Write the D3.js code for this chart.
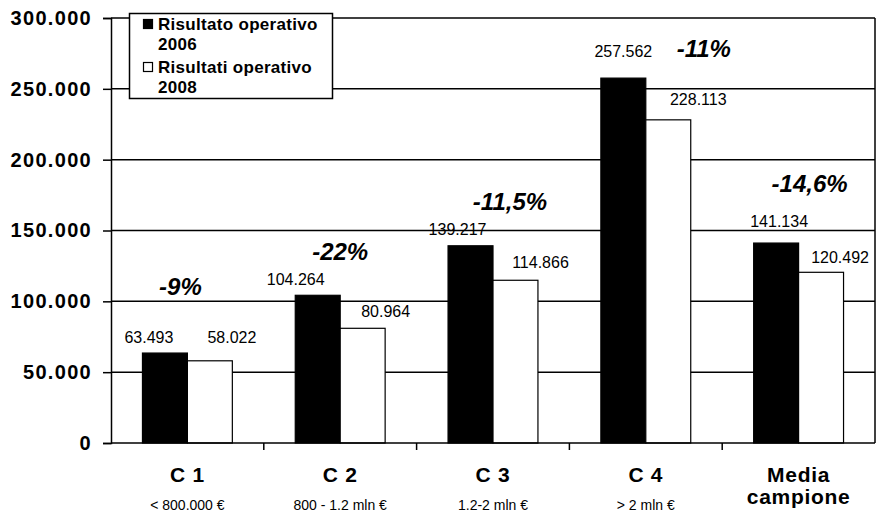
<!DOCTYPE html>
<html>
<head>
<meta charset="utf-8">
<script src="https://cdn.jsdelivr.net/npm/d3@7"></script>
<style>
  html, body { margin: 0; padding: 0; background: #fff; }
  svg { display: block; }
</style>
</head>
<body>
<svg id="chart" width="877" height="516"></svg>
<script>
// Risultato operativo per classe di fatturato
const categories = ["C 1", "C 2", "C 3", "C 4", "Media campione"];
const categoryLines = [["C 1"], ["C 2"], ["C 3"], ["C 4"], ["Media", "campione"]];
const subtitles = ["< 800.000 €", "800 - 1.2 mln €", "1.2-2 mln €", "> 2 mln €", ""];
const series = ["2006", "2008"];
const seriesNames = [["Risultato operativo", "2006"], ["Risultati operativo", "2008"]];
const values2006 = [63493, 104264, 139217, 257562, 141134];
const values2008 = [58022, 80964, 114866, 228113, 120492];
const changeLabels = ["-9%", "-22%", "-11,5%", "-11%", "-14,6%"];
const yTicks = [0, 50000, 100000, 150000, 200000, 250000, 300000];

// label nudges (px): value labels per series, change labels per category
const valueNudge2006 = [[-16, -10], [-22, -10], [-13, -11], [0, -21], [3, -16]];
const valueNudge2008 = [[22, -18], [23, -11], [25, -12], [30, -15], [19, -9]];
const changeNudge = [[-7, -58], [0, -35], [17, -36], [58, -21], [11, -51]];

const svg = d3.select("#chart");
const plotLeft = 111, plotRight = 875, plotTop = 18, plotBottom = 443;
const FONT = "'Liberation Sans', Arial, Helvetica, sans-serif";

const itLocale = d3.formatLocale({ decimal: ",", thousands: ".", grouping: [3], currency: ["", "€"] });
const fmt = itLocale.format(",d");

const x = d3.scaleBand().domain(categories).range([plotLeft, plotRight]).padding(0);
const x1 = d3.scaleBand().domain(series).range([0, x.bandwidth()]).paddingInner(0).paddingOuter(0.7);
const y = d3.scaleLinear().domain([0, 300000]).range([plotBottom, plotTop]);

const rows = categories.map((c, i) => ({ c, i, v: [values2006[i], values2008[i]] }));

// gridlines
svg.append("g").selectAll("line").data(yTicks.filter(t => t > 0)).join("line")
  .attr("x1", plotLeft).attr("x2", plotRight)
  .attr("y1", d => y(d)).attr("y2", d => y(d))
  .attr("stroke", "#000").attr("stroke-width", 1.5);
// right border
svg.append("line").attr("x1", plotRight).attr("x2", plotRight).attr("y1", plotTop).attr("y2", plotBottom)
  .attr("stroke", "#000").attr("stroke-width", 1.5);

// bars
const groups = svg.append("g").selectAll("g").data(rows).join("g")
  .attr("transform", d => `translate(${x(d.c)},0)`);
groups.selectAll("rect").data(d => d.v.map((v, k) => ({ k, v }))).join("rect")
  .attr("x", d => x1(series[d.k]))
  .attr("width", x1.bandwidth())
  .attr("y", d => y(d.v))
  .attr("height", d => y(0) - y(d.v))
  .attr("fill", d => d.k === 0 ? "#000" : "#fff")
  .attr("stroke", "#000").attr("stroke-width", 1.2);

// y axis
const yAxis = d3.axisLeft(y).tickValues(yTicks).tickSize(8).tickPadding(11)
  .tickFormat(d => fmt(d));
const gy = svg.append("g").attr("transform", `translate(${plotLeft},0)`).call(yAxis);
gy.select(".domain").attr("stroke", "#000").attr("stroke-width", 1.5);
gy.selectAll(".tick line").attr("stroke", "#000").attr("stroke-width", 1.5);
gy.selectAll(".tick text")
  .attr("font-family", FONT)
  .attr("font-weight", "bold").attr("font-size", 20).attr("letter-spacing", 1.3)
  .attr("fill", "#000");

// x axis line with ticks at category boundaries
svg.append("line").attr("x1", plotLeft).attr("x2", plotRight).attr("y1", plotBottom).attr("y2", plotBottom)
  .attr("stroke", "#000").attr("stroke-width", 1.5);
svg.append("g").selectAll("line").data(categories.slice(1)).join("line")
  .attr("x1", d => x(d)).attr("x2", d => x(d))
  .attr("y1", plotBottom).attr("y2", plotBottom + 7)
  .attr("stroke", "#000").attr("stroke-width", 1.5);

// category labels
const catG = svg.append("g").attr("font-family", FONT)
  .attr("text-anchor", "middle").attr("fill", "#000");
rows.forEach(r => {
  const cx = x(r.c) + x.bandwidth() / 2;
  categoryLines[r.i].forEach((line, li) => {
    catG.append("text").attr("x", cx).attr("y", 482 + li * 22)
      .attr("font-weight", "bold").attr("font-size", 21).attr("letter-spacing", 0.7)
      .text(line);
  });
  if (subtitles[r.i]) {
    catG.append("text").attr("x", cx).attr("y", 510)
      .attr("font-size", 14).text(subtitles[r.i]);
  }
});

// value labels
const valG = svg.append("g").attr("font-family", FONT)
  .attr("font-size", 16).attr("text-anchor", "middle").attr("fill", "#000");
rows.forEach(r => {
  [valueNudge2006, valueNudge2008].forEach((nudge, k) => {
    const cx = x(r.c) + x1(series[k]) + x1.bandwidth() / 2;
    valG.append("text")
      .attr("x", cx + nudge[r.i][0])
      .attr("y", y(r.v[k]) + nudge[r.i][1])
      .text(fmt(r.v[k]));
  });
});

// percentage change labels
const chG = svg.append("g").attr("font-family", FONT)
  .attr("font-size", 24).attr("font-weight", "bold").attr("font-style", "italic")
  .attr("text-anchor", "middle").attr("fill", "#000");
rows.forEach(r => {
  const cx = x(r.c) + x.bandwidth() / 2;
  const topV = d3.max(r.v);
  chG.append("text")
    .attr("x", cx + changeNudge[r.i][0])
    .attr("y", y(topV) + changeNudge[r.i][1])
    .text(changeLabels[r.i]);
});

// legend
const lg = svg.append("g").attr("font-family", FONT)
  .attr("font-weight", "bold").attr("font-size", 17).attr("letter-spacing", 0.3).attr("fill", "#000");
lg.append("rect").attr("x", 129.5).attr("y", 13.5).attr("width", 203).attr("height", 85)
  .attr("fill", "#fff").attr("stroke", "#000").attr("stroke-width", 1.5);
seriesNames.forEach((names, k) => {
  const baseY = 30 + k * 43;
  lg.append("rect").attr("x", 143.5).attr("y", baseY - 10.5).attr("width", 9).attr("height", 9)
    .attr("fill", k === 0 ? "#000" : "#fff").attr("stroke", "#000").attr("stroke-width", 1.2);
  names.forEach((n, li) => {
    lg.append("text").attr("x", 158).attr("y", baseY + li * 20).text(n);
  });
});
</script>
</body>
</html>
